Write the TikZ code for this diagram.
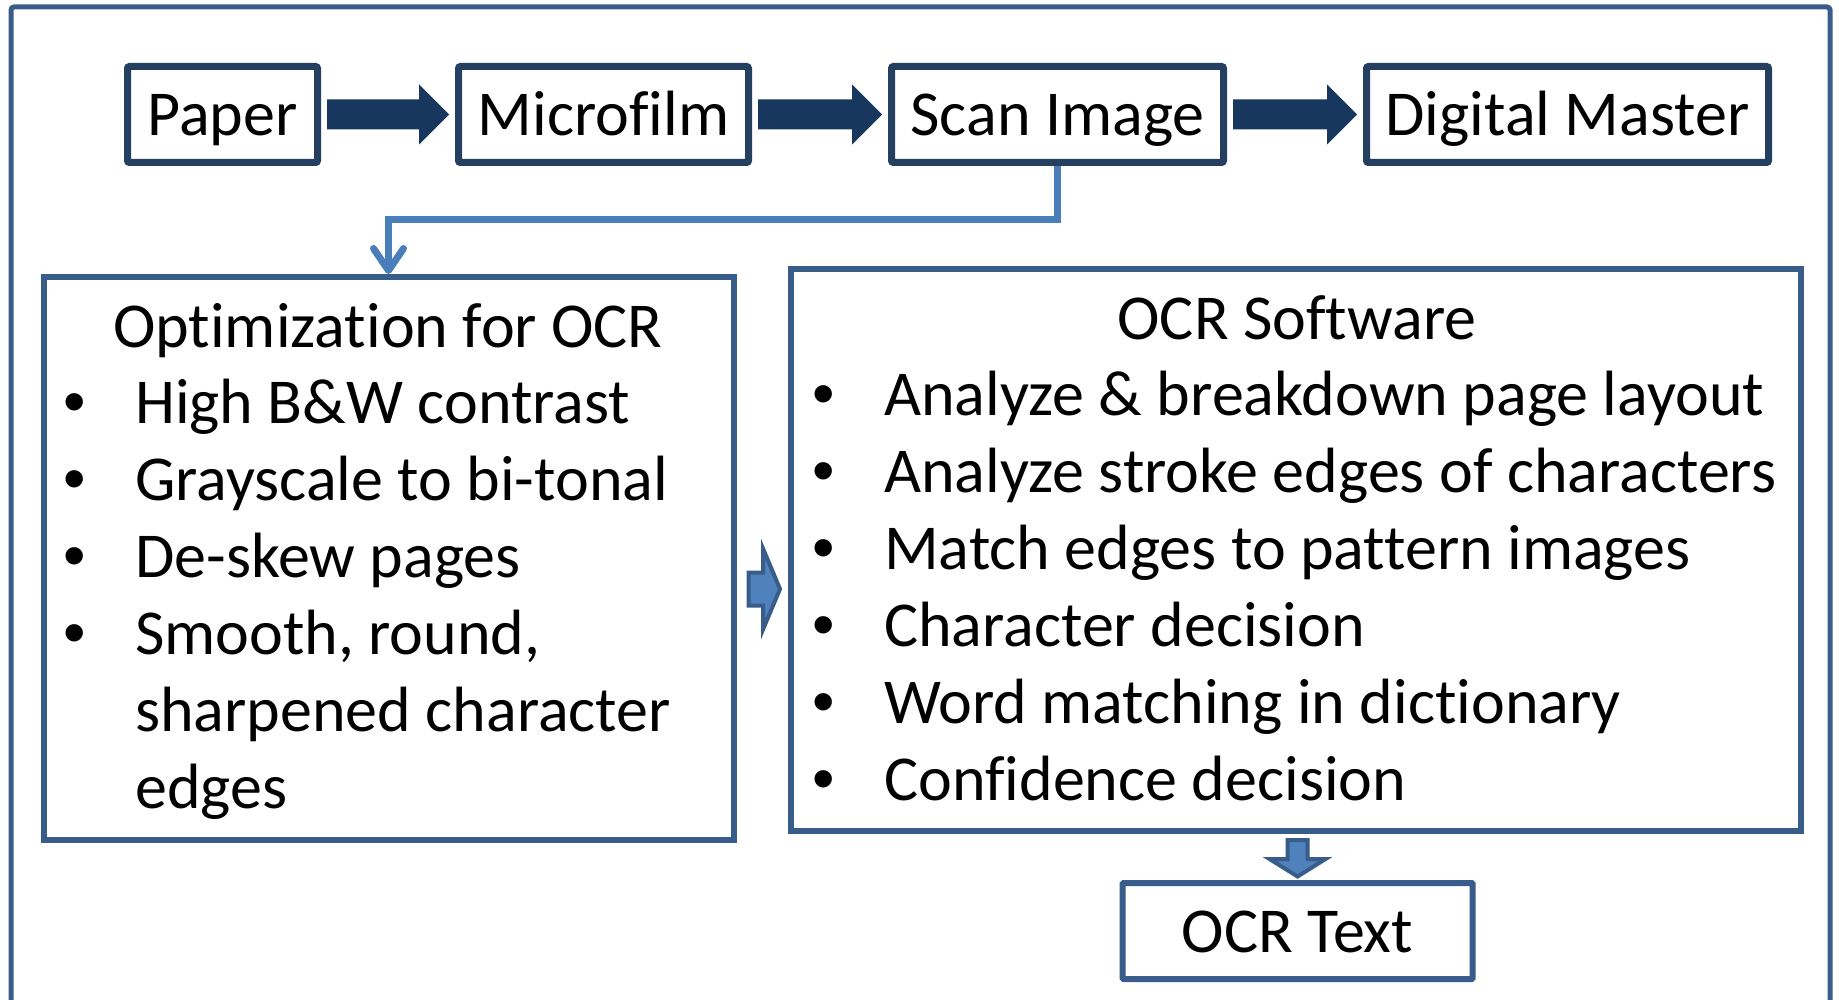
\documentclass[tikz,border=0pt]{standalone}
\usepackage{fontspec}
\setmainfont{Carlito}[Ligatures=NoCommon]
\newfontfamily\bulletfont{Liberation Sans}
\usetikzlibrary{arrows.meta,calc}
\definecolor{topborder}{HTML}{243F60}
\definecolor{arrfillc}{HTML}{17375E}
\definecolor{boxborder}{HTML}{385D8A}
\definecolor{connc}{HTML}{4A7EBB}
\definecolor{blockfill}{HTML}{4F81BD}
\tikzset{
  topbox/.style={draw=topborder, line width=7pt, rounded corners=2pt, inner sep=0pt,
    minimum height=96pt, text height=50pt, text depth=7pt, font=\fontsize{64}{77}\selectfont},
  bigbox/.style={draw=boxborder, line width=6pt, inner sep=0pt},
  txt/.style={inner sep=0pt, font=\fontsize{64}{77}\selectfont},
  bul/.style={inner sep=0pt, font=\bulletfont\fontsize{64}{77}\selectfont, anchor=base},
  arrfill/.style={fill=arrfillc},
  blockarr/.style={draw=boxborder, fill=blockfill, line width=4pt},
  conn/.style={draw=connc, line width=7pt, -{Straight Barb[length=22pt,width=30pt,round]}},
  frame/.style={draw=boxborder, line width=5pt, rounded corners=3pt}
}
\newcommand\toparrow[2]{%
  \fill[arrfill] let \p1=(#1.east), \p2=(#2.west) in
    (\x1+6pt,\y1+15pt) -- (\x2-36pt,\y1+15pt) -- (\x2-36pt,\y1+30pt) -- (\x2-6pt,\y1)
    -- (\x2-36pt,\y1-30pt) -- (\x2-36pt,\y1-15pt) -- (\x1+6pt,\y1-15pt) -- cycle;}
\begin{document}
\begin{tikzpicture}[x=1pt,y=-1pt]
\useasboundingbox (0,0) rectangle (1839,1000);
\clip (0,0) rectangle (1839,1000);
\fill[white] (0,0) rectangle (1839,1000);
\draw[frame] (11,1015) -- (11,7) -- (1830,7) -- (1830,1015);

% top row
\node[topbox, minimum width=190pt] (paper) at (222.5,114.5) {Paper};
\node[topbox, minimum width=290pt] (micro) at (603.5,114.5) {Microfilm};
\node[topbox, minimum width=332pt] (scan) at (1057.5,114.5) {Scan Image};
\node[topbox, minimum width=402pt] (digital) at (1567.5,114.5) {Digital Master};
\toparrow{paper}{micro}
\toparrow{micro}{scan}
\toparrow{scan}{digital}

% big boxes
\node[bigbox, minimum width=690pt, minimum height=563pt] (left) at (388.5,558.5) {};
\node[bigbox, minimum width=1010pt, minimum height=562pt] (right) at (1296,550) {};
\node[topbox, draw=boxborder, line width=6pt, rounded corners=1pt, minimum width=350pt] (ocr) at (1297.5,931) {OCR Text};

% connector
\draw[conn] (scan.south) -- ++(0,54) -| (left.north);

% block arrow left -> right
\draw[blockarr] let \p1=(left.east), \p2=(right.west) in
  (\x1+12pt,\y1-14pt) -- (\x2-25pt,\y1-14pt) -- (\x2-25pt,\y1+10pt) -- (\x2-8pt,\y1-30.5pt)
  -- (\x2-25pt,\y1-71pt) -- (\x2-25pt,\y1-47pt) -- (\x1+12pt,\y1-47pt) -- cycle;
% block arrow right -> ocr
\draw[blockarr] let \p1=(right.south), \p2=(ocr.north) in
  (\x2-10pt,\y1-6pt) -- (\x2-10pt,\y2+21pt) -- (\x2-28pt,\y2+21pt) -- (\x2,\y2+3.5pt)
  -- (\x2+28pt,\y2+21pt) -- (\x2+10pt,\y2+21pt) -- (\x2+10pt,\y1-6pt) -- cycle;

% left box text
\node[txt, anchor=base] (ltitle) at (388,347) {Optimization for OCR};
\node[bul] (lb1) at (74.5,423) {•};
\node[bul] (lb2) at (74.5,500) {•};
\node[bul] (lb3) at (74.5,577) {•};
\node[bul] (lb4) at (74.5,654) {•};
\node[txt, anchor=base west] (l1) at (135,423) {High B\&W contrast};
\node[txt, anchor=base west] (l2) at (135,500) {Grayscale to bi-tonal};
\node[txt, anchor=base west] (l3) at (135,577) {De-skew pages};
\node[txt, anchor=base west] (l4) at (135,654) {Smooth, round,};
\node[txt, anchor=base west] (l5) at (135,731) {sharpened character};
\node[txt, anchor=base west] (l6) at (135,808) {edges};

% right box text
\node[txt, anchor=base] (rtitle) at (1297,339) {OCR Software};
\node[bul] (rb1) at (823.5,415) {•};
\node[bul] (rb2) at (823.5,492) {•};
\node[bul] (rb3) at (823.5,569) {•};
\node[bul] (rb4) at (823.5,646) {•};
\node[bul] (rb5) at (823.5,723) {•};
\node[bul] (rb6) at (823.5,800) {•};
\node[txt, anchor=base west] (r1) at (884,415) {Analyze \& breakdown page layout};
\node[txt, anchor=base west] (r2) at (884,492) {Analyze stroke edges of characters};
\node[txt, anchor=base west] (r3) at (884,569) {Match edges to pattern images};
\node[txt, anchor=base west] (r4) at (884,646) {Character decision};
\node[txt, anchor=base west] (r5) at (884,723) {Word matching in dictionary};
\node[txt, anchor=base west] (r6) at (884,800) {Confidence decision};
\end{tikzpicture}
\end{document}
